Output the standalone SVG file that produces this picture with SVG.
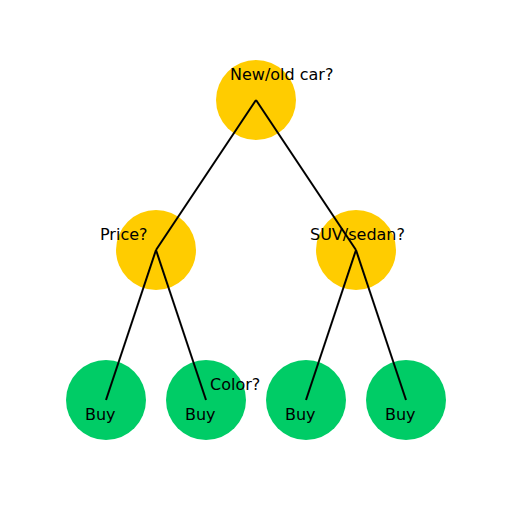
<svg xmlns="http://www.w3.org/2000/svg" width="512" height="512" viewBox="0 0 512 512">
<style>
.q{fill:#FFCC00}
.b{fill:#00CC66}
.t{font-family:"DejaVu Sans",sans-serif;font-size:16px;fill:#000}
.e{stroke:#000;stroke-width:2;fill:none}
</style>
<rect width="512" height="512" fill="#fff"/>
<g id="n1"><circle class="q" cx="256" cy="100" r="40"/></g>
<g id="n2"><circle class="q" cx="156" cy="250" r="40"/></g>
<g id="n3"><circle class="q" cx="356" cy="250" r="40"/></g>
<g id="n4"><circle class="b" cx="106" cy="400" r="40"/></g>
<g id="n5"><circle class="b" cx="206" cy="400" r="40"/></g>
<g id="n6"><circle class="b" cx="306" cy="400" r="40"/></g>
<g id="n7"><circle class="b" cx="406" cy="400" r="40"/></g>
<g id="connectors">
<line class="e" x1="256" y1="100" x2="156" y2="250"/>
<line class="e" x1="256" y1="100" x2="356" y2="250"/>
<line class="e" x1="156" y1="250" x2="106" y2="400"/>
<line class="e" x1="156" y1="250" x2="206" y2="400"/>
<line class="e" x1="356" y1="250" x2="306" y2="400"/>
<line class="e" x1="356" y1="250" x2="406" y2="400"/>
</g>
<g id="labels">
<text class="t" x="230" y="80">New/old car?</text>
<text class="t" x="100" y="240">Price?</text>
<text class="t" x="310" y="240">SUV/sedan?</text>
<text class="t" x="210" y="390">Color?</text>
<text class="t" x="85" y="420">Buy</text>
<text class="t" x="185" y="420">Buy</text>
<text class="t" x="285" y="420">Buy</text>
<text class="t" x="385" y="420">Buy</text>
</g>
</svg>
